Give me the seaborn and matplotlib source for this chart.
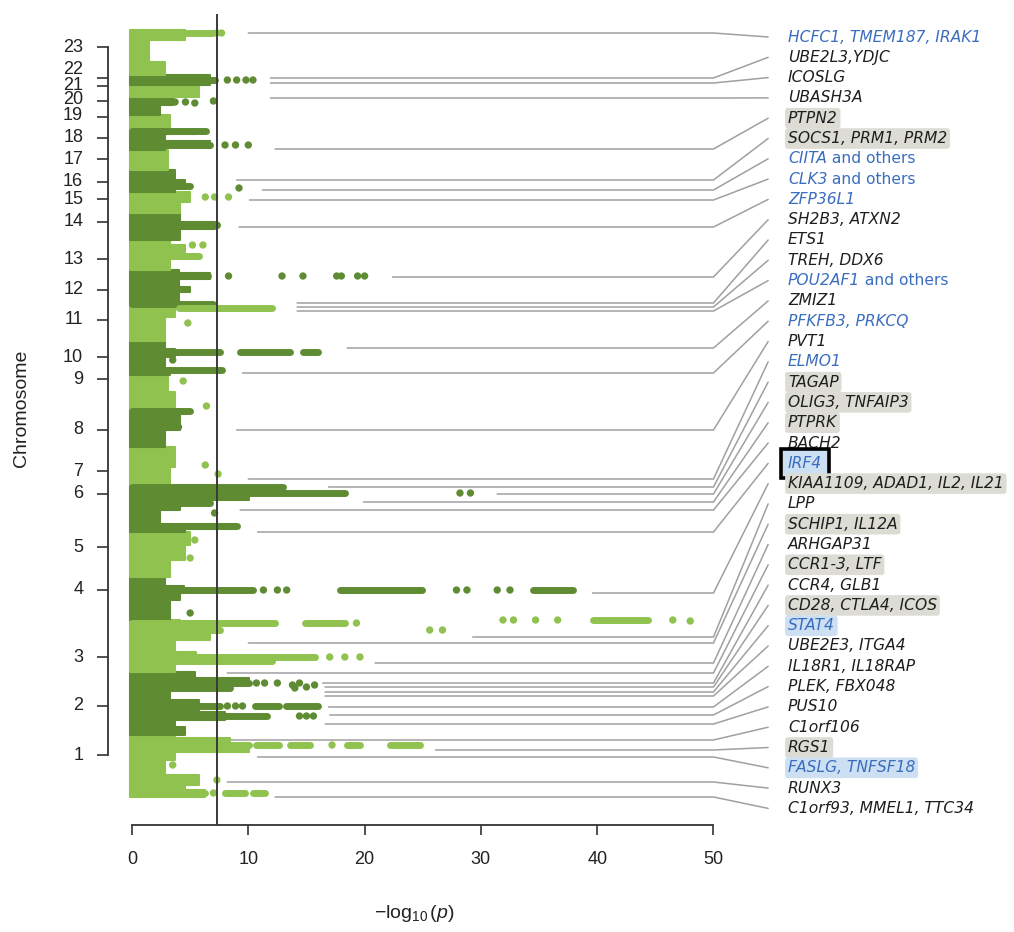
import matplotlib
matplotlib.use('Agg')
import matplotlib.pyplot as plt
import seaborn as sns
import numpy as np
import pandas as pd

# ---- chromosome layout (cumulative genome position, arbitrary units) ----
chrom_edges = [0, 62, 125, 177, 220, 265, 312, 350, 387, 422, 456, 492, 527,
               557, 584, 605, 627, 647, 667, 682, 700, 712, 722, 767]
chrom_ticks = [42, 91, 140, 207, 250, 303, 326, 367, 418, 440, 477, 507, 538,
               575, 598, 615, 638, 659, 680, 696, 711, 719, 750]
chrom_label_pos = [42, 91, 140, 207, 250, 303, 326, 367, 418, 440, 477, 507, 538,
                   575, 598, 615, 638, 659, 681, 697, 712, 728, 750]
chrom_names = [str(i) for i in range(1, 24)]

# ---- bulk of SNPs: extent of the dense cloud (-log10 p) from each start position ----
prof_y = [0, 7, 12, 22, 37, 45, 52, 59,
          62, 70, 77, 85, 97, 107, 112, 119,
          125, 135, 145, 157, 171,
          177, 197, 204, 211,
          220, 237, 252,
          265, 268, 273, 287, 292, 297, 307,
          312, 330,
          350, 367,
          387, 405,
          422, 427, 440, 448,
          456, 480, 488,
          492, 505, 510, 518, 524,
          527, 545, 552,
          557, 568, 575,
          584, 595,
          605, 610, 617,
          627,
          647, 650, 656, 663,
          667,
          682, 692,
          700,
          712,
          722, 735, 757]
prof_x = [6.3, 4.6, 5.8, 2.8, 3.7, 10.1, 8.4, 3.7,
          4.6, 3.7, 8.0, 5.8, 3.3, 8.4, 10.1, 5.4,
          3.7, 5.5, 3.7, 6.7, 4.1,
          3.3, 4.1, 4.5, 2.8,
          3.3, 4.6, 5.0,
          4.6, 8.9, 2.4, 4.1, 6.7, 10.1, 7.1,
          3.3, 3.7,
          2.8, 4.1,
          3.7, 3.1,
          3.3, 2.8, 3.7, 2.8,
          2.8, 3.7, 5.8,
          4.0, 5.0, 4.0, 6.7, 4.0,
          3.3, 4.6, 3.3,
          4.1, 7.1, 4.1,
          4.1, 5.0,
          3.7, 4.6, 3.7,
          3.1,
          2.8, 6.7, 2.8, 5.5,
          3.3,
          2.4, 3.5,
          5.8,
          6.7,
          2.8, 1.5, 4.6]

# ---- runs of overlapping significant SNPs ----
strip_chr = [23, 22, 18, 18, 16, 14, 13, 12, 12, 11, 10, 10, 10, 10, 8,
             6, 6, 6, 6, 4, 4, 4, 3, 3, 3, 3, 3, 3,
             2, 2, 2, 2, 2, 2, 1, 1, 1, 1, 1, 1, 1, 1]
strip_pos = [764, 717, 652, 666, 611, 572, 541, 521, 493, 489, 445, 445, 445, 427, 386,
             304, 310, 271, 294, 207, 207, 207, 174, 174, 167, 140, 136, 177,
             114, 109, 91, 91, 91, 81, 52, 52, 52, 52, 52, 4, 4, 4]
strip_x0 = [0, 0, 0, 0, 0, 0, 0, 0, 0, 4.0, 0, 9.3, 14.7, 0, 0,
            0, 0, 0, 0, 0, 17.9, 34.5, 0, 14.9, 0, 0, 0, 39.6,
            0, 0, 0, 10.6, 13.2, 0, 0, 10.7, 13.6, 18.5, 22.2, 0, 8.0, 10.4]
strip_x1 = [7.0, 7.1, 6.7, 6.4, 5.0, 7.3, 5.8, 6.5, 7.0, 12.0, 7.6, 13.6, 16.0, 7.7, 5.0,
            18.3, 13.0, 9.0, 6.7, 10.4, 24.9, 37.9, 12.3, 18.3, 7.6, 15.7, 12.0, 44.4,
            10.1, 8.4, 7.6, 12.6, 16.0, 11.6, 10.1, 12.6, 15.3, 19.6, 24.8, 6.3, 9.7, 11.4]

# ---- isolated significant SNPs ----
hit_chr = [23, 23, 22, 22, 22, 22, 20, 20, 20, 20, 18, 18, 18, 16, 15, 15, 15, 14, 13, 13,
           12, 12, 12, 12, 12, 12, 12, 11, 10, 9, 9, 8, 7, 7, 6, 6, 6, 5, 5,
           4, 4, 4, 4, 4, 4, 4, 4,
           3, 3, 3, 3, 3, 3, 3, 3, 3, 3, 3, 3,
           2, 2, 2, 2, 2, 2, 2, 2, 2, 2, 2, 2, 2, 2,
           1, 1, 1, 1]
hit_x = [7.3, 7.7, 8.2, 9.0, 9.8, 10.4, 3.7, 4.6, 5.4, 7.0, 8.0, 8.9, 10.0, 9.2, 6.3, 7.1, 8.3, 7.3, 5.2, 6.1,
         8.3, 12.9, 14.7, 17.6, 18.0, 19.4, 20.0, 4.8, 3.5, 4.4, 6.4, 4.0, 6.3, 7.4, 28.2, 29.1, 7.1, 5.4, 5.0,
         11.3, 12.5, 13.3, 27.9, 28.8, 31.4, 32.5, 5.0,
         19.3, 25.6, 26.7, 31.9, 32.8, 34.7, 36.6, 46.5, 48.0, 17.0, 18.3, 19.6,
         10.7, 11.4, 12.5, 13.8, 14.4, 15.0, 15.7, 14.0, 8.2, 8.9, 9.5, 14.4, 15.0, 15.6,
         17.2, 3.5, 7.3, 7.0]
hit_pos = [764, 764, 717, 717, 717, 717, 695, 695, 694, 696, 652, 652, 652, 609, 600, 600, 600, 572, 552, 552,
           521, 521, 521, 521, 521, 521, 521, 474, 437, 416, 391, 370, 332, 323, 304, 304, 284, 257, 239,
           207, 207, 207, 207, 207, 207, 207, 184,
           174, 167, 167, 177, 177, 177, 177, 177, 176, 140, 140, 140,
           114, 114, 114, 112, 114, 110, 112, 109, 91, 91, 91, 81, 81, 81,
           52, 32, 17, 4]

# ---- annotated loci: leader start (-log10 p), locus position, label ----
lead_x0 = [10.0, 11.9, 11.9, 11.9, 12.3, 9.0, 11.2, 10.1, 9.2, 22.4, 14.2, 14.2, 14.2,
           18.5, 9.5, 9.0, 10.0, 16.9, 31.4, 19.9, 9.3, 10.8, 39.6, 29.3, 10.0, 20.9,
           8.2, 16.4, 16.6, 16.6, 16.6, 16.9, 17.0, 16.6, 8.4, 26.1, 10.8, 8.2, 12.3]
lead_pos = [764, 719, 714, 699, 648, 617, 607, 597, 570, 520, 494, 490, 486,
            449, 424, 367, 318, 310, 303, 295, 287, 265, 204, 160, 154, 134,
            124, 114, 110, 105, 101, 90, 82, 73, 57, 47, 40, 15, 0]
genes = ['HCFC1, TMEM187, IRAK1', 'UBE2L3,YDJC', 'ICOSLG', 'UBASH3A', 'PTPN2',
         'SOCS1, PRM1, PRM2', 'CIITA', 'CLK3', 'ZFP36L1', 'SH2B3, ATXN2', 'ETS1',
         'TREH, DDX6', 'POU2AF1', 'ZMIZ1', 'PFKFB3, PRKCQ', 'PVT1', 'ELMO1', 'TAGAP',
         'OLIG3, TNFAIP3', 'PTPRK', 'BACH2', 'IRF4', 'KIAA1109, ADAD1, IL2, IL21', 'LPP',
         'SCHIP1, IL12A', 'ARHGAP31', 'CCR1-3, LTF', 'CCR4, GLB1', 'CD28, CTLA4, ICOS',
         'STAT4', 'UBE2E3, ITGA4', 'IL18R1, IL18RAP', 'PLEK, FBX048', 'PUS10',
         'C1orf106', 'RGS1', 'FASLG, TNFSF18', 'RUNX3', 'C1orf93, MMEL1, TTC34']
gene_blue = ['HCFC1, TMEM187, IRAK1', 'CIITA', 'CLK3', 'ZFP36L1', 'POU2AF1',
             'PFKFB3, PRKCQ', 'ELMO1', 'IRF4', 'STAT4', 'FASLG, TNFSF18']
gene_grey_box = ['PTPN2', 'SOCS1, PRM1, PRM2', 'TAGAP', 'OLIG3, TNFAIP3', 'PTPRK',
                 'KIAA1109, ADAD1, IL2, IL21', 'SCHIP1, IL12A', 'CCR1-3, LTF',
                 'CD28, CTLA4, ICOS', 'RGS1']
gene_blue_box = ['IRF4', 'STAT4', 'FASLG, TNFSF18']
gene_others = ['CIITA', 'CLK3', 'POU2AF1']

LIGHT = '#8fc24f'
DARK = '#5f8c33'
BLUE = '#3b6dbf'

sns.set_theme(style='ticks')
plt.rcParams['font.family'] = ['Liberation Sans', 'DejaVu Sans']
plt.rcParams['mathtext.fontset'] = 'custom'
plt.rcParams['mathtext.rm'] = 'Liberation Sans'
plt.rcParams['mathtext.it'] = 'Liberation Sans:italic'

fig = plt.figure(figsize=(10.14, 9.32), dpi=100)
ax = fig.add_axes([0, 0, 1, 1])
ax.set_facecolor('white')
ax.set_xlim(-11.35, 75.84)
ax.set_ylim(-135, 797)


def chrom_color(c):
    return LIGHT if c % 2 == 1 else DARK


# dense SNP cloud per chromosome
for c in range(23):
    lo, hi = chrom_edges[c], chrom_edges[c + 1]
    idx = [i for i, y in enumerate(prof_y) if lo <= y < hi]
    ys = [prof_y[i] for i in idx] + [hi]
    xs = [prof_x[i] for i in idx] + [prof_x[idx[-1]]]
    ax.fill_betweenx(ys, -0.2, xs, step='post', facecolor=chrom_color(c + 1),
                     edgecolor=chrom_color(c + 1), lw=1.5, joinstyle='round', zorder=2)

# runs of significant SNPs
for c, y, x0, x1 in zip(strip_chr, strip_pos, strip_x0, strip_x1):
    ax.hlines(y, x0, x1, colors=chrom_color(c), lw=5, capstyle='round', zorder=3)

hits = pd.DataFrame({'x': hit_x, 'y': hit_pos,
                     'shade': ['light' if c % 2 else 'dark' for c in hit_chr]})
sns.scatterplot(data=hits, x='x', y='y', hue='shade', palette={'light': LIGHT, 'dark': DARK},
                s=28, linewidth=0, legend=False, ax=ax, zorder=3)
ax.set_xlabel('')
ax.set_ylabel('')

# genome-wide significance threshold
ax.vlines(7.3, -28, 783, colors='#3a3a3a', lw=1.4, zorder=4)

# leader lines and gene labels
label_y = np.linspace(760, -11.4, len(genes))
for x0, hy, ly, g in zip(lead_x0, lead_pos, label_y, genes):
    ax.plot([x0, 50, 54.7], [hy, hy, ly], color='#a0a0a0', lw=1.1, zorder=1,
            solid_joinstyle='miter')
    col = BLUE if g in gene_blue else '#1e1e1e'
    box = None
    if g == 'IRF4':
        box = dict(boxstyle='square,pad=0.45', fc='#cddff2', ec='black', lw=2.6)
    elif g in gene_blue_box:
        box = dict(boxstyle='round,pad=0.18', fc='#cddff2', ec='none')
    elif g in gene_grey_box:
        box = dict(boxstyle='round,pad=0.18', fc='#dcdcd5', ec='none')
    t = ax.text(56.4, ly, g, style='italic', color=col, fontsize=11.2, va='center',
                ha='left', family='DejaVu Sans', bbox=box)
    if g in gene_others:
        ax.annotate(' and others', xy=(1, 0.5), xycoords=t, va='center', ha='left',
                    color=BLUE, fontsize=11.2, family='DejaVu Sans')

# axes in base-R style
for s in ['top', 'right']:
    ax.spines[s].set_visible(False)
ax.spines['left'].set_position(('data', -2.06))
ax.spines['left'].set_bounds(chrom_ticks[0], chrom_ticks[-1])
ax.spines['bottom'].set_position(('data', -28))
ax.spines['bottom'].set_bounds(0, 50)
for s in ['left', 'bottom']:
    ax.spines[s].set_color('#333333')
    ax.spines[s].set_linewidth(1.3)

ax.set_yticks(chrom_ticks)
ax.tick_params(axis='y', length=8, width=1.2, color='#333333', labelleft=False)
for yp, name in zip(chrom_label_pos, chrom_names):
    ax.text(-4.2, yp, name, ha='right', va='center', fontsize=13, color='#222222')

ax.set_xticks(range(0, 51, 10))
ax.tick_params(axis='x', length=7, width=1.2, color='#333333', pad=12,
               labelsize=13, labelcolor='#222222')

ax.text(-9.46, 389, 'Chromosome', rotation=90, ha='center', va='center',
        fontsize=14, color='#222222')
ax.text(24.3, -116, r'$-\log_{10}(p)$', ha='center', va='center', fontsize=14,
        color='#222222')

fig.savefig('out.png', dpi=100)
